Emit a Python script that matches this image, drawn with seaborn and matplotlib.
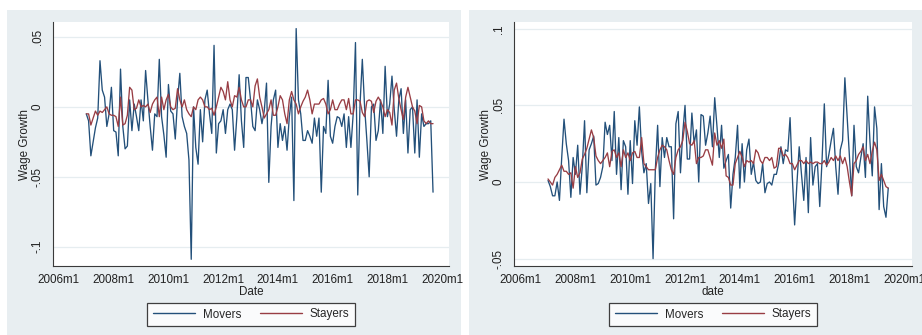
import numpy as np
import pandas as pd
import matplotlib
matplotlib.use("Agg")
import matplotlib.pyplot as plt
from matplotlib.patches import Rectangle
from matplotlib.lines import Line2D
import seaborn as sns

# ---------------- data ----------------
start_left = "2007-01"
start_right = "2007-01"

movers_left = [
    -0.005, -0.010, -0.035, -0.025, -0.015, -0.008, 0.033, 0.012, 0.007, -0.014, -0.005, 0.014,
    -0.017, -0.018, -0.035, 0.027, -0.014, -0.030, -0.028, 0.005, -0.017, 0.002, -0.007, -0.017,
    0.005, -0.010, 0.026, 0.005, -0.014, -0.031, -0.005, -0.007, 0.034, -0.007, -0.020, -0.036,
    0.016, -0.003, -0.005, -0.023, 0.005, 0.024, -0.007, -0.014, -0.019, -0.038, -0.109, 0.000,
    -0.029, -0.041, -0.002, -0.025, 0.005, 0.012, -0.005, -0.019, 0.044, -0.033, -0.012, -0.010,
    -0.002, -0.019, -0.002, 0.002, -0.002, -0.031, -0.007, 0.023, -0.010, -0.029, 0.021, 0.021,
    0.005, -0.014, -0.017, 0.005, -0.002, -0.012, -0.003, 0.017, -0.054, -0.014, 0.005, 0.012,
    -0.029, -0.012, -0.024, -0.014, -0.031, -0.007, 0.007, -0.067, 0.056, 0.005, -0.005, -0.024,
    -0.024, -0.017, -0.021, -0.026, -0.008, -0.021, -0.008, -0.061, -0.014, -0.019, 0.019, -0.021,
    -0.026, -0.014, -0.007, -0.008, -0.014, -0.005, -0.029, -0.007, -0.029, -0.005, 0.046, -0.063,
    0.002, 0.034, 0.000, -0.024, -0.050, 0.000, 0.002, -0.024, -0.017, 0.005, -0.019, 0.029,
    -0.007, 0.002, 0.022, -0.002, -0.021, 0.005, 0.013, -0.019, 0.005, -0.033, -0.002, 0.000,
    -0.033, 0.005, -0.036, -0.005, -0.014, -0.012, -0.012, -0.010, -0.061,
]
stayers_left = [
    -0.005, -0.005, -0.013, -0.008, -0.003, -0.006, -0.003, -0.004, -0.002, 0.000, -0.005, -0.006,
    -0.006, -0.007, -0.014, 0.007, -0.013, -0.012, -0.006, 0.014, 0.012, -0.002, -0.001, 0.005,
    0.000, 0.001, 0.000, 0.002, -0.004, 0.002, 0.005, 0.007, -0.007, 0.007, -0.002, 0.005,
    0.009, 0.000, -0.002, -0.001, 0.013, 0.005, 0.000, 0.005, -0.002, -0.005, -0.007, 0.000,
    -0.002, 0.005, 0.007, 0.005, 0.000, 0.000, -0.002, -0.001, -0.006, 0.000, 0.007, 0.014,
    0.011, 0.005, 0.018, 0.005, 0.000, 0.008, 0.007, 0.014, 0.005, 0.000, 0.000, 0.005,
    0.005, 0.000, 0.015, 0.020, 0.007, 0.000, -0.008, -0.005, -0.002, 0.005, -0.006, -0.006,
    0.000, 0.008, 0.005, -0.005, -0.012, 0.005, 0.011, 0.005, 0.002, -0.005, 0.000, 0.004,
    0.007, 0.012, 0.005, -0.005, 0.002, 0.002, 0.002, 0.005, 0.006, 0.002, -0.005, -0.002,
    0.005, -0.002, -0.002, 0.002, 0.005, 0.005, -0.002, 0.006, -0.005, -0.005, 0.005, 0.005,
    0.004, -0.004, -0.007, 0.004, 0.005, 0.004, -0.004, 0.004, 0.007, 0.004, 0.000, -0.007,
    -0.002, -0.004, -0.013, 0.012, 0.017, 0.006, -0.002, -0.009, 0.007, 0.014, 0.007, 0.000,
    -0.003, -0.012, 0.001, 0.000, -0.010, -0.012, -0.010, -0.012, -0.012,
]
movers_right = [
    0.001, -0.003, -0.009, -0.009, 0.000, -0.012, 0.016, 0.041, 0.025, 0.014, -0.010, 0.016,
    0.005, 0.024, -0.008, 0.010, 0.040, -0.007, 0.021, 0.025, 0.030, -0.002, -0.001, 0.003,
    0.010, 0.039, 0.031, 0.037, 0.014, 0.046, 0.005, 0.029, -0.005, 0.027, 0.023, -0.008,
    0.027, -0.001, 0.040, 0.024, 0.049, 0.020, 0.006, 0.012, -0.014, -0.001, -0.050, 0.008,
    0.037, -0.003, 0.029, 0.016, 0.029, 0.023, 0.023, -0.024, 0.038, 0.046, 0.006, 0.032,
    0.050, 0.015, 0.015, 0.045, 0.025, 0.034, 0.000, 0.044, 0.043, 0.024, 0.032, 0.043,
    0.023, 0.055, 0.036, 0.016, 0.037, 0.009, 0.014, 0.018, -0.017, 0.005, 0.016, 0.037,
    -0.004, 0.025, 0.000, 0.021, 0.028, 0.005, 0.013, 0.001, -0.001, 0.000, 0.012, -0.007,
    -0.001, 0.000, -0.002, 0.005, 0.005, 0.012, 0.023, 0.012, 0.021, 0.020, 0.042, 0.003,
    -0.028, -0.001, 0.023, 0.005, -0.012, 0.016, -0.020, 0.029, -0.002, 0.010, 0.012, -0.016,
    0.014, 0.051, 0.010, 0.018, 0.027, 0.035, 0.010, -0.008, 0.021, 0.027, 0.068, 0.042,
    0.016, -0.009, 0.037, 0.010, 0.006, 0.016, 0.025, 0.003, 0.056, 0.026, 0.004, 0.049,
    0.035, -0.018, 0.012, -0.016, -0.023, -0.004,
]
stayers_right = [
    0.002, 0.000, -0.002, 0.003, 0.005, 0.008, 0.011, 0.007, 0.007, 0.005, 0.006, -0.004,
    0.010, 0.003, 0.006, 0.015, 0.018, 0.022, 0.028, 0.034, 0.029, 0.017, 0.014, 0.012,
    0.014, 0.016, 0.019, 0.010, 0.020, 0.021, 0.016, 0.019, 0.010, 0.021, 0.016, 0.019,
    0.014, 0.019, 0.020, 0.016, 0.016, 0.029, 0.012, 0.010, 0.008, 0.008, 0.008, 0.008,
    0.016, 0.021, 0.024, 0.023, 0.021, 0.014, 0.008, 0.005, 0.016, 0.021, 0.023, 0.027,
    0.039, 0.033, 0.025, 0.024, 0.027, 0.012, 0.016, 0.016, 0.017, 0.021, 0.021, 0.016,
    0.011, 0.032, 0.024, 0.027, 0.022, 0.028, 0.004, 0.003, -0.002, -0.002, 0.012, 0.016,
    0.020, 0.016, 0.010, 0.014, 0.013, 0.014, 0.012, 0.021, 0.019, 0.014, 0.012, 0.016,
    0.016, 0.014, 0.016, 0.009, 0.010, 0.022, 0.022, 0.017, 0.018, 0.016, 0.012, 0.012,
    0.008, 0.011, 0.014, 0.014, 0.012, 0.014, 0.012, 0.013, 0.012, 0.013, 0.013, 0.012,
    0.012, 0.014, 0.011, 0.013, 0.016, 0.014, 0.017, 0.014, 0.017, 0.012, 0.016, 0.010,
    0.000, -0.009, 0.012, 0.014, 0.018, 0.020, 0.023, 0.014, 0.018, 0.012, 0.020, 0.026,
    0.021, 0.001, 0.005, 0.001, -0.003, -0.004,
]

xtick_labels = ["2006m1", "2008m1", "2010m1", "2012m1", "2014m1", "2016m1", "2018m1", "2020m1"]
left_yticks = [-0.1, -0.05, 0, 0.05]
left_ylabels = ["-.1", "-.05", "0", ".05"]
right_yticks = [-0.05, 0, 0.05, 0.1]
right_ylabels = ["-.05", "0", ".05", ".1"]
series_names = ["Movers", "Stayers"]
x_titles = ["Date", "date"]
y_title = "Wage Growth"

# ---------------- helpers ----------------
BASE = pd.Period("2006-01", freq="M")


def month_index(start, n):
    per = pd.period_range(start, periods=n, freq="M")
    return np.array([(p - BASE).n for p in per])


def tick_pos(labels):
    out = []
    for lab in labels:
        y, m = lab.split("m")
        out.append((pd.Period(f"{y}-{int(m):02d}", freq="M") - BASE).n)
    return out


def long_df(start, movers, stayers):
    parts = []
    for name, vals in zip(series_names, [movers, stayers]):
        parts.append(pd.DataFrame({"month": month_index(start, len(vals)),
                                   "value": vals, "series": name}))
    return pd.concat(parts, ignore_index=True)


sns.set_style("white")
plt.rcParams["font.family"] = ["Liberation Sans", "DejaVu Sans"]

W, H = 922, 335
fig = plt.figure(figsize=(W / 100, H / 100), dpi=100, facecolor="white")

BG = "#E8EEF1"
GRID = "#E6EDF0"
AX = "#3A3A3A"
palette = {"Movers": "#23507A", "Stayers": "#983D44"}
FS = 8.4

# panel backgrounds (figure pixels) drawn behind the axes
for (x0, x1) in [(7, 461), (469, 922)]:
    fig.patches.append(Rectangle((x0 / W, 0), (x1 - x0) / W, 1 - 10 / H,
                                 transform=fig.transFigure, facecolor=BG,
                                 edgecolor="none", zorder=-10))


def make_panel(rect_px, df, yticks, ylabels, ylim, xlim, xtitle, ylabel_x):
    l, t, r, b = rect_px
    ax = fig.add_axes([l / W, 1 - b / H, (r - l) / W, (b - t) / H])
    ax.set_zorder(5)
    ax.set_facecolor("white")
    sns.lineplot(data=df, x="month", y="value", hue="series", palette=palette,
                 ax=ax, linewidth=0.95, legend=False, estimator=None, sort=False)
    ax.set_xlim(*xlim)
    ax.set_ylim(*ylim)
    ax.set_yticks(yticks)
    ax.set_yticklabels(ylabels, rotation=90, va="center", fontsize=FS, color="#222222")
    xt = tick_pos(xtick_labels)
    ax.set_xticks(xt)
    ax.set_xticklabels(xtick_labels, fontsize=FS, color="#222222")
    ax.tick_params(axis="both", direction="out", length=4, width=0.8, color=AX, pad=2)
    ax.tick_params(axis="y", pad=2.5)
    for yv in yticks:
        ax.axhline(yv, color=GRID, lw=0.9, zorder=0)
    for s in ["top", "right"]:
        ax.spines[s].set_visible(False)
    for s in ["left", "bottom"]:
        ax.spines[s].set_color(AX)
        ax.spines[s].set_linewidth(0.8)
    ax.set_xlabel(xtitle, fontsize=FS, color="#222222", labelpad=0)
    ax.set_ylabel(y_title, fontsize=FS, color="#222222")
    ax.yaxis.set_label_coords((ylabel_x - l) / (r - l), 0.5)
    handles = [Line2D([], [], color=palette[n], lw=1.0) for n in series_names]
    leg = ax.legend(handles, series_names, loc="center", bbox_to_anchor=(0.5, (b - 314.5) / (b - t)),
                    ncol=2, frameon=True, fancybox=False, fontsize=FS, handlelength=3.6,
                    handletextpad=0.7, columnspacing=1.6, borderpad=0.45, borderaxespad=0)
    leg.get_frame().set_edgecolor("#111111")
    leg.get_frame().set_linewidth(0.9)
    leg.get_frame().set_facecolor("white")
    return ax


df_left = long_df(start_left, movers_left, stayers_left)
df_right = long_df(start_right, movers_right, stayers_right)

make_panel((53, 22, 449, 266), df_left, left_yticks, left_ylabels,
           (-0.1138, 0.0607), (-2.6, 171.0), x_titles[0], 31)
make_panel((514, 22, 912, 266), df_right, right_yticks, right_ylabels,
           (-0.0548, 0.1044), (-2.9, 171.4), x_titles[1], 492)

fig.savefig("out.png", dpi=100, facecolor="white")
